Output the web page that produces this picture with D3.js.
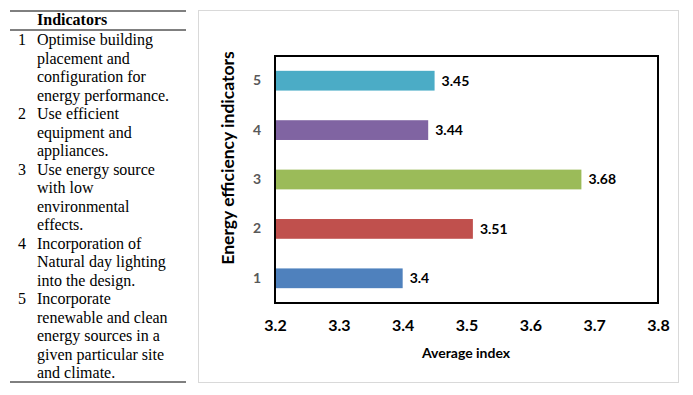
<!DOCTYPE html>
<html>
<head>
<meta charset="utf-8">
<script src="https://cdn.jsdelivr.net/npm/d3@7"></script>
<style>
  body { margin: 0; background: #fff; }
  svg { display: block; }
</style>
</head>
<body>
<div id="chart"></div>
<script>
// Data
const categories = ["1", "2", "3", "4", "5"];
const values = [3.4, 3.51, 3.68, 3.44, 3.45];
const barColors = ["#4F81BD", "#C0504D", "#9BBB59", "#8064A2", "#4BACC6"];
const xTicks = [3.2, 3.3, 3.4, 3.5, 3.6, 3.7, 3.8];

// Indicator table (left)
const indicatorNums = ["1", "2", "3", "4", "5"];
const indicatorLines = [
  ["Optimise building", "placement and", "configuration for", "energy performance."],
  ["Use efficient", "equipment and", "appliances."],
  ["Use energy source", "with low", "environmental", "effects."],
  ["Incorporation of", "Natural day lighting", "into the design."],
  ["Incorporate", "renewable and clean", "energy sources in a", "given particular site", "and climate."]
];

const svg = d3.select("#chart")
  .append("svg")
  .attr("width", 693)
  .attr("height", 395);

// Table
const table = svg.append("g")
  .attr("font-family", "'Liberation Serif', 'Times New Roman', serif")
  .attr("font-size", 16)
  .attr("fill", "#000");

[11, 30, 382].forEach(yy => {
  table.append("line").attr("x1", 10).attr("x2", 186).attr("y1", yy).attr("y2", yy)
    .attr("stroke", "#000").attr("stroke-width", 1);
});

table.append("text")
  .attr("x", 37).attr("y", 25)
  .attr("font-weight", "bold")
  .text("Indicators");

const lineH = 18.5;
let row = 0;
indicatorLines.forEach((lines, i) => {
  table.append("text")
    .attr("x", 18).attr("y", 45 + row * lineH)
    .text(indicatorNums[i]);
  lines.forEach(t => {
    table.append("text")
      .attr("x", 37).attr("y", 45 + row * lineH)
      .text(t);
    row++;
  });
});

// Chart frame
svg.append("rect")
  .attr("x", 198.5).attr("y", 10.5)
  .attr("width", 480).attr("height", 372)
  .attr("fill", "#fff")
  .attr("stroke", "#d9d9d9");

const margin = { top: 56, right: 35, bottom: 92, left: 275 };
const width = 658 - margin.left;
const height = 303 - margin.top;

const g = svg.append("g")
  .attr("transform", `translate(${margin.left}, ${margin.top})`);

const x = d3.scaleLinear()
  .domain([xTicks[0], xTicks[xTicks.length - 1]])
  .range([0, width]);

const y = d3.scaleBand()
  .domain(categories.slice().reverse())
  .range([0, height])
  .paddingInner(0.6)
  .paddingOuter(0.3);

// Bars
g.selectAll(".bar")
  .data(categories)
  .enter().append("rect")
  .attr("class", "bar")
  .attr("x", 0)
  .attr("y", d => y(d))
  .attr("width", (d, i) => x(values[i]) - x(xTicks[0]))
  .attr("height", y.bandwidth())
  .attr("fill", (d, i) => barColors[i]);

// Value labels
g.selectAll(".val")
  .data(categories)
  .enter().append("text")
  .attr("class", "val")
  .attr("x", (d, i) => x(values[i]) + 7)
  .attr("y", d => y(d) + y.bandwidth() / 2)
  .attr("dy", "0.35em")
  .attr("font-family", "Lato, 'Open Sans', sans-serif")
  .attr("font-weight", "bold")
  .attr("font-size", 14)
  .attr("fill", "#000")
  .text((d, i) => values[i]);

// Plot border
g.append("rect")
  .attr("x", 0).attr("y", 0)
  .attr("width", width).attr("height", height)
  .attr("fill", "none")
  .attr("stroke", "#000")
  .attr("stroke-width", 2);

// Axes
const xAxis = g.append("g")
  .attr("transform", `translate(0, ${height})`)
  .call(d3.axisBottom(x).tickValues(xTicks).tickSize(0).tickPadding(17).tickFormat(d3.format(".1f")));
xAxis.select(".domain").remove();
xAxis.selectAll("text")
  .attr("font-family", "Lato, 'Open Sans', sans-serif")
  .attr("font-weight", "bold")
  .attr("font-size", 16)
  .attr("fill", "#000");

const yAxis = g.append("g")
  .call(d3.axisLeft(y).tickSize(0).tickPadding(14));
yAxis.select(".domain").remove();
yAxis.selectAll("text")
  .attr("font-family", "Lato, 'Open Sans', sans-serif")
  .attr("font-weight", "bold")
  .attr("font-size", 14)
  .attr("fill", "#595959");

// Axis titles
svg.append("text")
  .attr("x", 466).attr("y", 358)
  .attr("text-anchor", "middle")
  .attr("font-family", "Lato, 'Open Sans', sans-serif")
  .attr("font-weight", "bold")
  .attr("font-size", 14)
  .text("Average index");

svg.append("text")
  .attr("transform", "translate(234, 158) rotate(-90)")
  .attr("text-anchor", "middle")
  .attr("font-family", "Lato, 'Open Sans', sans-serif")
  .attr("font-weight", "bold")
  .attr("font-size", 17.5)
  .text("Energy efficiency indicators");
</script>
</body>
</html>
